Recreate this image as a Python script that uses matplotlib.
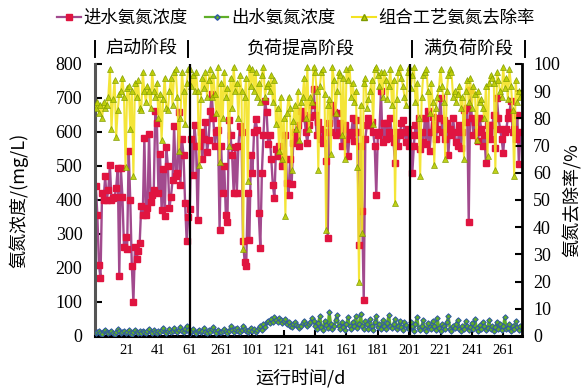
import matplotlib
matplotlib.use('Agg')
import matplotlib.pyplot as plt
from matplotlib.lines import Line2D

plt.rcParams['font.family'] = ['Noto Sans CJK SC', 'DejaVu Sans']

# ---------------- data ----------------
influent = [
    441, 357, 210, 170, 420, 401, 470, 401, 430, 503,
    401, 405, 410, 435, 494, 176, 494, 410, 262, 291,
    256, 544, 401, 206, 100, 262, 226, 250, 273, 382,
    356, 582, 356, 377, 594, 394, 415, 430, 662, 626,
    420, 535, 371, 491, 352, 556, 500, 377, 410, 459,
    618, 470, 480, 659, 445, 580, 532, 390, 279, 350,
    375, 580, 473, 620, 560, 341, 559, 600, 521, 580,
    630, 540, 576, 662, 711, 640, 559, 600, 606, 312,
    560, 421, 500, 356, 335, 635, 590, 532, 421, 556,
    420, 560, 618, 600, 279, 218, 206, 420, 282, 532,
    480, 600, 638, 606, 362, 259, 480, 591, 691, 660,
    565, 590, 520, 444, 406, 550, 530, 560, 530, 500,
    521, 591, 450, 415, 520, 447, 568, 600, 580, 620,
    560, 662, 640, 650, 600, 568, 620, 645, 680, 726,
    650, 590, 630, 610, 580, 568, 600, 514, 288, 625,
    600, 680, 660, 590, 655, 600, 625, 560, 610, 620,
    580, 530, 600, 590, 640, 575, 635, 600, 267, 560,
    367, 106, 580, 620, 640, 620, 630, 600, 560, 415,
    591, 600, 720, 572, 625, 580, 625, 600, 640, 582,
    570, 509, 600, 559, 590, 625, 635, 600, 570, 610,
    560, 590, 479, 560, 620, 590, 640, 550, 600, 570,
    640, 565, 662, 544, 600, 645, 620, 580, 610, 640,
    700, 600, 635, 580, 625, 532, 610, 590, 640, 600,
    570, 560, 620, 553, 600, 665, 630, 670, 335, 723,
    640, 590, 630, 600, 575, 640, 610, 560, 590, 509,
    620, 600, 580, 620, 650, 553, 700, 640, 610, 580,
    538, 600, 610, 640, 660, 690, 600, 610, 580, 650,
    506, 600,
]

effluent = [
    8, 12, 15, 10, 6, 14, 18, 11, 9, 13,
    16, 10, 7, 12, 20, 14, 9, 11, 15, 8,
    12, 17, 10, 6, 13, 19, 11, 9, 14, 10,
    16, 12, 8, 15, 22, 13, 10, 18, 12, 9,
    14, 11, 17, 24, 13, 10, 15, 20, 12, 16,
    25, 14, 11, 18, 27, 16, 12, 20, 30, 18,
    10, 15, 22, 12, 8, 14, 19, 11, 16, 24,
    13, 9, 17, 12, 20, 26, 14, 10, 18, 13,
    11, 16, 22, 15, 9, 14, 28, 17, 12, 20,
    24, 15, 11, 18, 30, 22, 16, 13, 19, 25,
    14, 20, 12, 17, 23, 28, 18, 34, 26, 40,
    45, 38, 50, 42, 55, 48, 40, 52, 46, 38,
    44, 50, 36, 42, 30, 26, 35, 40, 32, 28,
    24, 30, 38, 45, 36, 28, 34, 40, 52, 44,
    30, 22, 38, 60, 26, 18, 44, 32, 24, 70,
    35, 20, 28, 48, 62, 30, 22, 40, 26, 18,
    36, 55, 28, 20, 42, 30, 58, 24, 34, 66,
    28, 20, 45, 36, 22, 50, 30, 18, 40, 60,
    26, 34, 22, 46, 30, 20, 38, 62, 28, 24,
    36, 50, 22, 30, 44, 26, 18, 40, 32, 24,
    20, 42, 28, 16, 35, 55, 24, 18, 30, 48,
    22, 15, 38, 26, 20, 45, 30, 18, 52, 24,
    16, 34, 28, 20, 40, 58, 22, 16, 30, 24,
    36, 48, 20, 14, 28, 22, 44, 30, 18, 26,
    38, 20, 50, 24, 16, 32, 22, 40, 28, 18,
    24, 46, 20, 30, 16, 26, 42, 22, 34, 18,
    28, 55, 20, 24, 36, 16, 30, 22, 44, 26,
    18, 30,
]

removal = [
    84, 86, 82, 85, 80, 86, 84, 85, 88, 98,
    76, 87, 94, 73, 83, 89, 90, 95, 88, 62,
    91, 92, 76, 90, 59, 93, 88, 94, 84, 83,
    97, 90, 86, 92, 90, 84, 97, 90, 88, 93,
    80, 89, 72, 87, 95, 84, 83, 90, 95, 85,
    97, 98, 88, 68, 80, 97, 90, 78, 93, 98,
    98, 92, 96, 90, 97, 90, 63, 87, 95, 91,
    97, 88, 94, 98, 88, 96, 89, 82, 99, 64,
    93, 80, 97, 88, 91, 70, 95, 84, 99, 90,
    93, 80, 96, 90, 32, 88, 95, 57, 99, 92,
    98, 90, 97, 88, 93, 86, 96, 99, 88, 92,
    93, 90, 96, 86, 94, 78, 84, 68, 88, 65,
    80, 44, 82, 88, 84, 61, 79, 85, 76, 90,
    72, 86, 88, 95, 80, 99, 76, 88, 86, 99,
    97, 90, 61, 92, 97, 98, 89, 39, 85, 87,
    67, 99, 94, 82, 90, 97, 96, 74, 95, 65,
    98, 94, 99, 88, 93, 86, 90, 62, 20, 85,
    38, 93, 95, 84, 87, 90, 94, 78, 98, 99,
    96, 92, 97, 88, 97, 94, 87, 92, 98, 85,
    94, 49, 87, 97, 99, 95, 92, 88, 85, 97,
    99, 91, 96, 99, 86, 93, 80, 59, 88, 96,
    97, 98, 90, 82, 93, 86, 63, 84, 88, 91,
    98, 92, 86, 65, 90, 96, 98, 97, 88, 90,
    86, 89, 92, 84, 88, 65, 90, 94, 86, 95,
    84, 92, 89, 72, 90, 86, 87, 84, 80, 92,
    66, 93, 96, 95, 93, 61, 97, 94, 90, 88,
    99, 91, 95, 87, 98, 92, 83, 59, 94, 86,
    90, 88,
]

days = list(range(1, len(influent) + 1))

xtick_pos = [21, 41, 61, 81, 101, 121, 141, 161, 181, 201, 221, 241, 261]
xtick_labels = ['21', '41', '61', '261', '101', '121', '141', '161', '181',
                '201', '221', '241', '261']
yl_ticks = [0, 100, 200, 300, 400, 500, 600, 700, 800]
yr_ticks = [0, 10, 20, 30, 40, 50, 60, 70, 80, 90, 100]
stage_bounds = [61.3, 201.5]
stage_names = ['启动阶段', '负荷提高阶段', '满负荷阶段']
series_names = ['进水氨氮浓度', '出水氨氮浓度', '组合工艺氨氮去除率']

# ---------------- styles ----------------
c_in_line, c_in_mk = '#A24A8E', '#E01440'
c_out_line, c_out_mk = '#5FAE28', '#2E56A8'
c_rm_line, c_rm_mk, c_rm_edge = '#F3E322', '#B9CC00', '#7E9A00'
serif = 'Liberation Serif'

W, H = 586, 389
fig = plt.figure(figsize=(W / 100, H / 100), dpi=100)
L, R, T, B = 95, 522, 64, 336
ax = fig.add_axes([L / W, 1 - B / H, (R - L) / W, (B - T) / H])
ax2 = ax.twinx()

ax.plot(days, influent, color=c_in_line, lw=1.7, marker='s', ms=4.2,
        mfc=c_in_mk, mec=c_in_mk, zorder=2)
ax.plot(days, effluent, color=c_out_line, lw=2.0, marker='D', ms=2.8,
        mfc=c_out_line, mec=c_out_mk, mew=0.7, zorder=3)
ax2.plot(days, removal, color=c_rm_line, lw=1.5, alpha=0.9, marker='^', ms=4.5,
         mfc=c_rm_mk, mec=c_rm_edge, mew=0.5, zorder=2)

for xb in stage_bounds:
    ax2.axvline(xb, color='black', lw=1.6, zorder=5)

ax.set_xlim(0.5, 273)
ax.set_ylim(0, 800)
ax2.set_ylim(0, 100)

ax.set_yticks(yl_ticks, [str(v) for v in yl_ticks], fontfamily=serif, fontsize=13)
ax2.set_yticks(yr_ticks, [str(v) for v in yr_ticks], fontfamily=serif, fontsize=13)
ax.set_xticks(xtick_pos, xtick_labels, fontfamily=serif, fontsize=10.5)

ax.tick_params(axis='y', direction='in', length=5, width=1.5, pad=9)
ax2.tick_params(axis='y', direction='in', length=5, width=1.5, pad=8)
ax.tick_params(axis='x', direction='in', length=4, width=1.5, pad=6)

for a in (ax, ax2):
    a.spines['top'].set_visible(False)
ax.spines['right'].set_visible(False)
ax2.spines['left'].set_visible(False)
ax2.spines['bottom'].set_visible(False)
ax.spines['left'].set_color('#555555')
ax.spines['left'].set_linewidth(2.2)
ax.spines['bottom'].set_linewidth(2.2)
ax2.spines['right'].set_linewidth(2.0)

ax.set_ylabel('氨氮浓度/(mg/L)', fontsize=13)
ax2.set_ylabel('氨氮去除率/%', fontsize=13)
ax.set_xlabel('运行时间/d', fontsize=13)
ax.yaxis.set_label_coords((28 - L) / (R - L), 0.5)
ax2.yaxis.set_label_coords((563 - L) / (R - L), 0.5)
ax.xaxis.set_label_coords((300 - L) / (R - L), -(369 - B) / (B - T))

# stage labels above the plot
ty = 1 - 49 / H
fig.text(141 / W, ty, stage_names[0], ha='center', va='center', fontsize=13)
fig.text(301 / W, ty, stage_names[1], ha='center', va='center', fontsize=13)
fig.text(468 / W, ty, stage_names[2], ha='center', va='center', fontsize=13)
for xp in (95, 188, 412, 525):
    fig.add_artist(Line2D([xp / W, xp / W], [1 - 41 / H, 1 - 57 / H],
                          transform=fig.transFigure, color='black', lw=1.4))

# legend
handles = [
    Line2D([], [], color=c_in_line, lw=1.6, marker='s', ms=4.2, mfc=c_in_mk, mec=c_in_mk),
    Line2D([], [], color=c_out_line, lw=1.6, marker='D', ms=2.8, mfc=c_out_line, mec=c_out_mk),
    Line2D([], [], color=c_rm_line, lw=1.5, marker='^', ms=4.5, mfc=c_rm_mk, mec=c_rm_edge),
]
fig.legend(handles, series_names, loc='center', bbox_to_anchor=(0.5 + 3 / W, 1 - 18 / H),
           ncol=3, frameon=False, fontsize=12.5, handlelength=1.35,
           handletextpad=0.15, columnspacing=1.0, borderaxespad=0)

fig.savefig('out.png', dpi=100)
